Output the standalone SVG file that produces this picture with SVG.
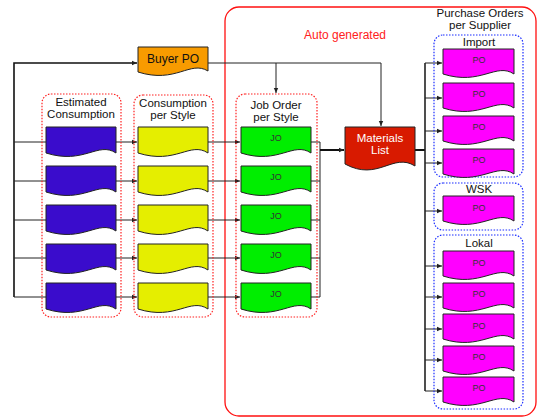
<svg xmlns="http://www.w3.org/2000/svg" width="538" height="418" viewBox="0 0 538 418">
  <defs>
    <marker id="arr" markerWidth="6" markerHeight="6" refX="5" refY="3" orient="auto" markerUnits="userSpaceOnUse">
      <path d="M0,0.8 L5,3 L0,5.2 Z" fill="#222"/>
    </marker>
    <!-- document shape, 70 wide -->
    <path id="doc" d="M0,0 H70 V26 C52,14 38,38 0,26 Z"/>
    <path id="docS" d="M0,0 H71 V25 C53,13 38,37 0,25 Z"/>
  </defs>
  <style>
    .lbl { font-family: "Liberation Sans", Arial, sans-serif; font-size: 11.5px; fill: #111; text-anchor: middle; }
    .small { font-family: "Liberation Sans", Arial, sans-serif; font-size: 9px; fill: #333; text-anchor: middle; }
    .doc { stroke: #222; stroke-width: 1; }
    .grpR { fill: none; stroke: #ff2020; stroke-width: 1.2; stroke-dasharray: 1.5 1.5; }
    .grpB { fill: none; stroke: #1a2cff; stroke-width: 1.2; stroke-dasharray: 1.5 1.5; }
    .ln { fill: none; stroke: #222; stroke-width: 1; }
    .thick { fill: none; stroke: #111; stroke-width: 2; }
    .est { fill: #3a0ccc; }
    .cons { fill: #e5ee00; }
    .jo { fill: #00ee00; }
    .po { fill: #ff00ff; }
  </style>

  <!-- auto generated region -->
  <g id="auto-region">
    <rect x="225" y="7" width="311" height="409" rx="14" fill="none" stroke="#ff1010" stroke-width="1.3"/>
    <text x="345" y="39" class="lbl" style="fill:#ff2020;font-size:12px">Auto generated</text>
  </g>

  <!-- connectors -->
  <g id="connectors">
    <!-- left feed bus -->
    <path class="thick" d="M14,297 V63 H137" style="stroke-width:1.6" marker-end="url(#arr)"/>
    <path class="ln" d="M14,142 H46 M14,181 H46 M14,220 H46 M14,258 H46 M14,297 H46"/>
    <!-- estimated -> consumption -->
    <path class="ln" d="M116,142 H137" marker-end="url(#arr)"/>
    <path class="ln" d="M116,181 H137" marker-end="url(#arr)"/>
    <path class="ln" d="M116,220 H137" marker-end="url(#arr)"/>
    <path class="ln" d="M116,258 H137" marker-end="url(#arr)"/>
    <path class="ln" d="M116,297 H137" marker-end="url(#arr)"/>
    <!-- consumption -> job order -->
    <path class="ln" d="M208,142 H240" marker-end="url(#arr)"/>
    <path class="ln" d="M208,181 H240" marker-end="url(#arr)"/>
    <path class="ln" d="M208,220 H240" marker-end="url(#arr)"/>
    <path class="ln" d="M208,258 H240" marker-end="url(#arr)"/>
    <path class="ln" d="M208,297 H240" marker-end="url(#arr)"/>
    <!-- buyer PO -> job order / materials list -->
    <path class="ln" d="M208,63 H381 V126" marker-end="url(#arr)"/>
    <path class="ln" d="M276,63 V93" marker-end="url(#arr)"/>
    <!-- job order -> materials list -->
    <path class="ln" d="M311,142 H320 V297 H311 M311,181 H320 M311,220 H320 M311,258 H320"/>
    <path class="thick" d="M320,150 H344" marker-end="url(#arr)"/>
    <!-- materials list -> purchase orders -->
    <path class="thick" d="M415,150 H425"/>
    <path class="ln" d="M425,63 V391" style="stroke-width:1.6"/>
    <path class="ln" d="M425,63 H442" marker-end="url(#arr)"/>
    <path class="ln" d="M425,98 H442" marker-end="url(#arr)"/>
    <path class="ln" d="M425,131 H442" marker-end="url(#arr)"/>
    <path class="ln" d="M425,163 H442" marker-end="url(#arr)"/>
    <path class="ln" d="M425,211 H442" marker-end="url(#arr)"/>
    <path class="ln" d="M425,266 H442" marker-end="url(#arr)"/>
    <path class="ln" d="M425,297 H442" marker-end="url(#arr)"/>
    <path class="ln" d="M425,329 H442" marker-end="url(#arr)"/>
    <path class="ln" d="M425,360 H442" marker-end="url(#arr)"/>
    <path class="ln" d="M425,391 H442" marker-end="url(#arr)"/>
  </g>

  <!-- buyer PO -->
  <g id="buyer-po">
    <path d="M138,47 H208 V71 C190,60 176,84 138,72 Z" fill="#f89b00" class="doc"/>
    <text x="173" y="63" class="lbl" style="font-size:12px">Buyer PO</text>
  </g>

  <!-- estimated consumption -->
  <g id="estimated-consumption">
    <rect x="42" y="94" width="79" height="223" rx="9" class="grpR"/>
    <text x="81" y="106" class="lbl">Estimated</text>
    <text x="81" y="118" class="lbl">Consumption</text>
    <use href="#doc" x="46" y="127" class="doc est"/>
    <use href="#doc" x="46" y="166" class="doc est"/>
    <use href="#doc" x="46" y="205" class="doc est"/>
    <use href="#doc" x="46" y="244" class="doc est"/>
    <use href="#doc" x="46" y="283" class="doc est"/>
  </g>

  <!-- consumption per style -->
  <g id="consumption-per-style">
    <rect x="134" y="95" width="79" height="222" rx="9" class="grpR"/>
    <text x="173" y="107" class="lbl">Consumption</text>
    <text x="173" y="119" class="lbl">per Style</text>
    <use href="#doc" x="138" y="127" class="doc cons"/>
    <use href="#doc" x="138" y="166" class="doc cons"/>
    <use href="#doc" x="138" y="205" class="doc cons"/>
    <use href="#doc" x="138" y="244" class="doc cons"/>
    <use href="#doc" x="138" y="283" class="doc cons"/>
  </g>

  <!-- job order per style -->
  <g id="job-order-per-style">
    <rect x="236" y="94" width="81" height="223" rx="9" class="grpR"/>
    <text x="276" y="109" class="lbl">Job Order</text>
    <text x="276" y="121" class="lbl">per Style</text>
    <use href="#doc" x="241" y="127" class="doc jo"/>
    <use href="#doc" x="241" y="166" class="doc jo"/>
    <use href="#doc" x="241" y="205" class="doc jo"/>
    <use href="#doc" x="241" y="244" class="doc jo"/>
    <use href="#doc" x="241" y="283" class="doc jo"/>
    <text x="276" y="141" class="small">JO</text>
    <text x="276" y="180" class="small">JO</text>
    <text x="276" y="219" class="small">JO</text>
    <text x="276" y="258" class="small">JO</text>
    <text x="276" y="297" class="small">JO</text>
  </g>

  <!-- materials list -->
  <g id="materials-list">
    <path d="M345,127 H415 V166 C393,152 378,182 345,164 Z" fill="#d81a00" class="doc"/>
    <text x="380" y="142" class="lbl" style="fill:#fff">Materials</text>
    <text x="380" y="154" class="lbl" style="fill:#fff">List</text>
  </g>

  <!-- purchase orders per supplier -->
  <g id="purchase-orders">
    <text x="480" y="17" class="lbl">Purchase Orders</text>
    <text x="480" y="29" class="lbl">per Supplier</text>
  </g>

  <g id="import">
    <rect x="434" y="35" width="89" height="142" rx="9" class="grpB"/>
    <text x="479" y="46" class="lbl">Import</text>
    <use href="#docS" x="443" y="49" class="doc po"/>
    <use href="#docS" x="443" y="83" class="doc po"/>
    <use href="#docS" x="443" y="116" class="doc po"/>
    <use href="#docS" x="443" y="149" class="doc po"/>
    <text x="479" y="63" class="small">PO</text>
    <text x="479" y="97" class="small">PO</text>
    <text x="479" y="130" class="small">PO</text>
    <text x="479" y="163" class="small">PO</text>
  </g>

  <g id="wsk">
    <rect x="434" y="183" width="89" height="47" rx="9" class="grpB"/>
    <text x="479" y="193" class="lbl">WSK</text>
    <use href="#docS" x="443" y="196" class="doc po"/>
    <text x="479" y="211" class="small">PO</text>
  </g>

  <g id="lokal">
    <rect x="434" y="235" width="89" height="174" rx="9" class="grpB"/>
    <text x="479" y="247" class="lbl">Lokal</text>
    <use href="#docS" x="443" y="251" class="doc po"/>
    <use href="#docS" x="443" y="283" class="doc po"/>
    <use href="#docS" x="443" y="314" class="doc po"/>
    <use href="#docS" x="443" y="346" class="doc po"/>
    <use href="#docS" x="443" y="377" class="doc po"/>
    <text x="479" y="266" class="small">PO</text>
    <text x="479" y="297" class="small">PO</text>
    <text x="479" y="329" class="small">PO</text>
    <text x="479" y="360" class="small">PO</text>
    <text x="479" y="391" class="small">PO</text>
  </g>
</svg>
